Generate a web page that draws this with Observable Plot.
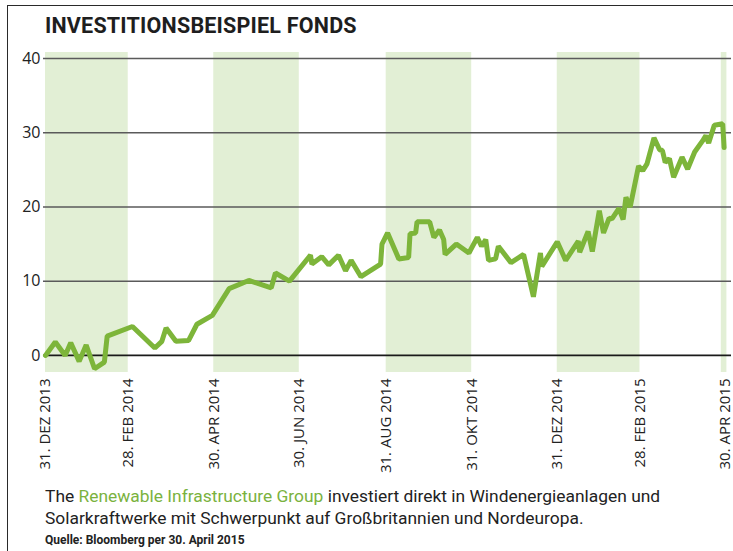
<!DOCTYPE html>
<html>
<head>
<meta charset="utf-8">
<script src="https://cdn.jsdelivr.net/npm/d3@7"></script>
<script src="https://cdn.jsdelivr.net/npm/@observablehq/plot@0.6"></script>
<style>
  html, body { margin: 0; padding: 0; background: #fff; }
  #frame { position: relative; width: 733px; height: 551px; overflow: hidden; }
  #border { position: absolute; left: 7px; top: 5px; right: 0; bottom: -2px; border-left: 1.5px solid #2a2a2a; border-top: 1.5px solid #2a2a2a; }
  #title { position: absolute; left: 45px; top: 13px; font: bold 21.5px "Liberation Sans Narrow", "Roboto", sans-serif; color: #1e1e1e; letter-spacing: 0.2px; white-space: nowrap; }
  #chart { position: absolute; left: 0; top: 45px; }
  #caption { position: absolute; left: 45px; top: 485px; font: 17.4px/22px "Liberation Sans Narrow", "Roboto", sans-serif; color: #222; white-space: nowrap; }
  #caption .hl { color: #7ab23e; }
  #source { position: absolute; left: 45px; top: 533px; font: bold 12px "Liberation Sans Narrow", "Roboto", sans-serif; color: #222; white-space: nowrap; }
</style>
</head>
<body>
<div id="frame">
  <div id="border"></div>
  <div id="title">INVESTITIONSBEISPIEL FONDS</div>
  <div id="chart"></div>
  <div id="caption">The <span class="hl">Renewable Infrastructure Group</span> investiert direkt in Windenergieanlagen und<br>Solarkraftwerke mit Schwerpunkt auf Großbritannien und Nordeuropa.</div>
  <div id="source">Quelle: Bloomberg per 30. April 2015</div>
</div>
<script>
// ---- data ----
const dates = [
  "2013-12-31","2014-01-07","2014-01-14","2014-01-18","2014-01-24","2014-01-29","2014-02-04","2014-02-11","2014-02-13",
  "2014-03-03","2014-03-19","2014-03-24","2014-03-27","2014-04-03","2014-04-12","2014-04-18","2014-04-29",
  "2014-05-11","2014-05-25","2014-06-10","2014-06-13","2014-06-23","2014-07-08","2014-07-09","2014-07-16",
  "2014-07-21","2014-07-28","2014-08-02","2014-08-06","2014-08-13","2014-08-27","2014-08-28","2014-09-01",
  "2014-09-09","2014-09-16","2014-09-17","2014-09-21","2014-09-22","2014-10-01","2014-10-04","2014-10-08",
  "2014-10-11","2014-10-12","2014-10-20","2014-10-29","2014-11-04","2014-11-07","2014-11-10","2014-11-12",
  "2014-11-17","2014-11-19","2014-11-28","2014-12-07","2014-12-14","2014-12-19","2014-12-20","2014-12-31",
  "2015-01-06","2015-01-15","2015-01-16","2015-01-22","2015-01-25","2015-01-30","2015-02-02","2015-02-06",
  "2015-02-08","2015-02-13","2015-02-16","2015-02-18","2015-02-21","2015-02-27","2015-03-02","2015-03-05",
  "2015-03-10","2015-03-14","2015-03-16","2015-03-18","2015-03-21","2015-03-24","2015-03-30","2015-04-03",
  "2015-04-08","2015-04-14","2015-04-16","2015-04-18","2015-04-22","2015-04-28","2015-04-29"
];
const values = [
  0, 1.8, 0, 1.7, -0.8, 1.4, -1.8, -0.9, 2.6,
  3.9, 1.0, 1.9, 3.7, 1.9, 2.0, 4.2, 5.4,
  9.0, 10.1, 9.1, 11.1, 10.0, 13.5, 12.3, 13.3,
  12.2, 13.5, 11.4, 12.8, 10.6, 12.3, 15.0, 16.5,
  13.0, 13.2, 16.4, 16.5, 18.0, 18.0, 15.9, 16.9,
  15.6, 13.6, 15.0, 13.8, 15.9, 14.7, 15.6, 12.8,
  13.0, 14.7, 12.5, 13.6, 7.9, 13.8, 12.0, 15.3,
  12.8, 15.4, 13.9, 16.7, 14.0, 19.5, 16.5, 18.5,
  18.4, 19.8, 18.3, 21.3, 20.0, 25.5, 24.9, 25.8,
  29.3, 27.7, 27.6, 26.0, 26.5, 24.0, 26.7, 25.1,
  27.4, 29.0, 29.6, 28.6, 31.0, 31.2, 28.0
];
const bandStarts = ["2013-12-31","2014-04-30","2014-08-31","2014-12-31","2015-04-27"];
const bandEnds   = ["2014-02-28","2014-06-30","2014-10-31","2015-02-28","2015-05-01"];
const tickDates  = ["2013-12-31","2014-02-28","2014-04-30","2014-06-30","2014-08-31","2014-10-31","2014-12-31","2015-02-28","2015-04-30"];
const tickLabels = ["31. DEZ 2013","28. FEB 2014","30. APR 2014","30. JUN 2014","31. AUG 2014","31. OKT 2014","31. DEZ 2014","28. FEB 2015","30. APR 2015"];
const yTicks = [0, 10, 20, 30, 40];

// ---- build ----
const parse = d3.utcParse("%Y-%m-%d");
const series = dates.map((d, i) => ({date: parse(d), value: values[i]}));
const bands = bandStarts.map((s, i) => ({x1: parse(s), x2: parse(bandEnds[i])}));
const ticks = tickDates.map(parse);
const labelMap = new Map(ticks.map((t, i) => [+t, tickLabels[i]]));

const plot = Plot.plot({
  width: 733,
  height: 437,
  marginLeft: 45,
  marginRight: 8,
  marginTop: 7,
  marginBottom: 110,
  style: {fontFamily: "'Open Sans', sans-serif", background: "transparent", color: "#222"},
  x: {type: "utc", domain: [parse("2013-12-31"), parse("2015-04-30")], axis: null},
  y: {domain: [-2.3, 40.8], axis: null},
  marks: [
    Plot.rectX(bands, {x1: "x1", x2: "x2", fill: "#e2efd5"}),
    Plot.ruleY(yTicks.filter(d => d !== 0), {stroke: "#5a5a5a", strokeWidth: 1.6, insetLeft: -2, insetRight: -6}),
    Plot.ruleY([0], {stroke: "#1a1a1a", strokeWidth: 1.8, insetLeft: -2, insetRight: -6}),
    Plot.axisY(yTicks, {tickSize: 0, tickPadding: 5, fontSize: 16, fill: "#222", label: null}),
    Plot.axisX(ticks, {tickSize: 0, tickPadding: 6, tickRotate: -90, fontSize: 15, fill: "#222", label: null, tickFormat: d => labelMap.get(+d)}),
    Plot.line(series, {x: "date", y: "value", stroke: "#7db53a", strokeWidth: 5, strokeLinejoin: "miter", strokeLinecap: "round"})
  ]
});
document.getElementById("chart").appendChild(plot);
</script>
</body>
</html>
